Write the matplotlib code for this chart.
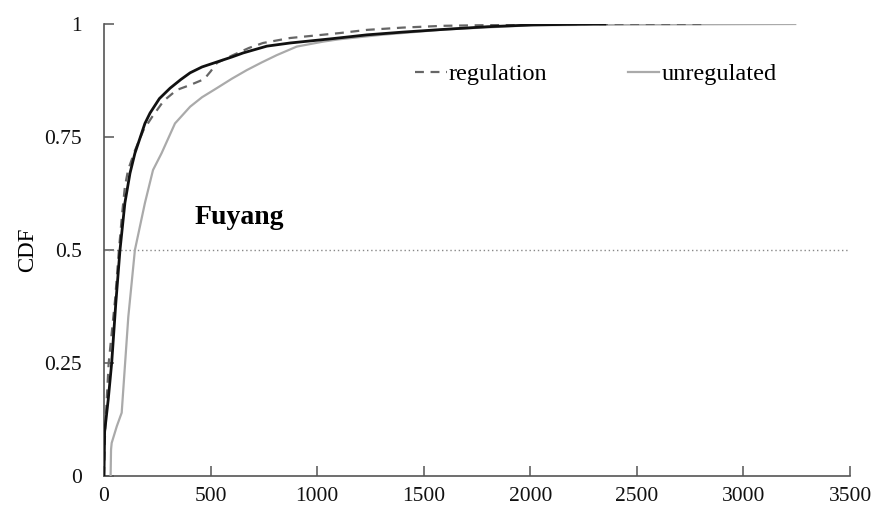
import matplotlib
matplotlib.use("Agg")
import matplotlib.pyplot as plt

# Data
black_x = [0, 3, 20, 36, 55, 75, 98, 122, 145, 192, 216, 260, 310, 360, 404, 460, 530, 600, 653, 764, 873, 1060, 1234, 1400, 1591, 1800, 2013, 2290, 2350]
black_y = [0.0, 0.098, 0.17, 0.25, 0.38, 0.5, 0.604, 0.67, 0.714, 0.78, 0.803, 0.835, 0.858, 0.877, 0.892, 0.905, 0.916, 0.927, 0.936, 0.951, 0.958, 0.967, 0.976, 0.982, 0.988, 0.994, 0.998, 1.0, 1.0]

reg_x = [0, 5, 22, 52, 70, 85, 98, 113, 145, 185, 225, 280, 341, 404, 470, 500, 530, 600, 680, 746, 873, 1000, 1107, 1234, 1400, 1591, 2000, 2290, 2830]
reg_y = [0.0, 0.1, 0.25, 0.39, 0.5, 0.58, 0.64, 0.677, 0.72, 0.765, 0.794, 0.83, 0.854, 0.865, 0.878, 0.895, 0.914, 0.93, 0.947, 0.958, 0.969, 0.975, 0.98, 0.987, 0.992, 0.996, 0.999, 1.0, 1.0]

unreg_x = [31, 33, 36, 60, 83, 114, 145, 192, 230, 270, 333, 404, 460, 529, 600, 670, 740, 810, 904, 1028, 1100, 1300, 1600, 2000, 2500, 3243]
unreg_y = [0.0, 0.058, 0.073, 0.11, 0.14, 0.352, 0.5, 0.604, 0.677, 0.714, 0.78, 0.817, 0.838, 0.858, 0.879, 0.898, 0.915, 0.931, 0.95, 0.961, 0.966, 0.976, 0.988, 0.997, 0.999, 1.0]

x_ticks = [0, 500, 1000, 1500, 2000, 2500, 3000, 3500]
y_ticks = [0, 0.25, 0.5, 0.75, 1]
y_tick_labels = ["0", "0.25", "0.5", "0.75", "1"]

plt.rcParams['font.family'] = ['Liberation Serif', 'DejaVu Serif']

fig = plt.figure(figsize=(8.76, 5.17), dpi=100)
ax = fig.add_axes([104/876, 1-476/517, (850-104)/876, (476-24)/517])

ax.axhline(0.5, color="#888888", lw=1.0, ls=(0, (1, 2)))
l_un, = ax.plot(unreg_x, unreg_y, color="#aaaaaa", lw=1.6, label="unregulated", zorder=3)
l_reg, = ax.plot(reg_x, reg_y, color="#666666", lw=1.6, ls=(0, (4, 3)), label="regulation", zorder=4)
ax.plot(black_x, black_y, color="#111111", lw=2.0, zorder=5)

ax.set_xlim(0, 3500)
ax.set_ylim(0, 1)
ax.set_xticks(x_ticks)
ax.set_xticklabels([str(v) for v in x_ticks])
ax.set_yticks(y_ticks)
ax.set_yticklabels(y_tick_labels)

for s in ["top", "right"]:
    ax.spines[s].set_visible(False)
for s in ["left", "bottom"]:
    ax.spines[s].set_color("#555555")
    ax.spines[s].set_linewidth(1.2)

ax.tick_params(axis="both", direction="in", length=7, width=1.1, color="#555555",
               labelsize=15.5, labelcolor="#111111")
ax.tick_params(axis="x", pad=8)
ax.tick_params(axis="y", pad=16)

ax.set_ylabel("CDF", fontsize=16.5, labelpad=4)

ax.text(427, 0.571, "Fuyang", fontsize=20, fontweight="bold", ha="left", va="center")

leg = ax.legend(handles=[l_reg, l_un], loc="center left",
                bbox_to_anchor=((415-104)/746, (476-74)/452),
                ncol=2, frameon=False, fontsize=17.5, handlelength=1.3,
                handletextpad=0.1, columnspacing=3.3, borderpad=0, borderaxespad=0)

fig.savefig("out.png", dpi=100, facecolor="white")
